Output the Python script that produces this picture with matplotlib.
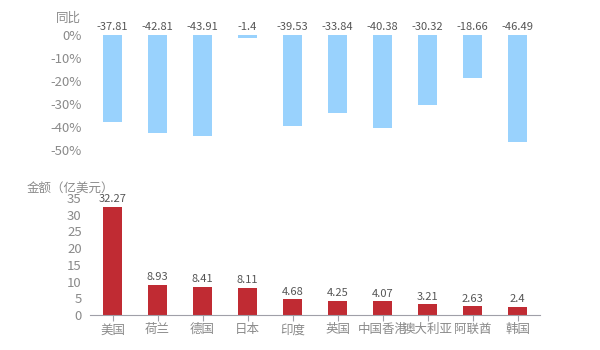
import matplotlib
matplotlib.use("Agg")
import matplotlib.pyplot as plt
from matplotlib.ticker import FuncFormatter

plt.rcParams['font.family'] = ['Noto Sans CJK SC', 'DejaVu Sans']

countries = ['美国', '荷兰', '德国', '日本', '印度', '英国', '中国香港', '澳大利亚', '阿联酋', '韩国']
yoy = [-37.81, -42.81, -43.91, -1.4, -39.53, -33.84, -40.38, -30.32, -18.66, -46.49]
amount = [32.27, 8.93, 8.41, 8.11, 4.68, 4.25, 4.07, 3.21, 2.63, 2.4]

tick_color = '#8a8a8a'
label_color = '#555555'
blue = '#99d2fd'
red = '#c02b33'

fig = plt.figure(figsize=(6, 3.5), dpi=100)
ax1 = fig.add_axes([0.15, 0.5714, 0.75, 0.3286])
ax2 = fig.add_axes([0.15, 0.10, 0.75, 0.3343])

x = list(range(len(countries)))

# top: year-on-year change
ax1.bar(x, yoy, width=0.44, color=blue)
for xi, v in zip(x, yoy):
    ax1.text(xi, 1.2, f'{v:g}', ha='center', va='bottom', fontsize=8, color=label_color)
ax1.set_xlim(-0.5, 9.5)
ax1.set_ylim(-50, 0)
ax1.set_yticks([0, -10, -20, -30, -40, -50])
ax1.yaxis.set_major_formatter(FuncFormatter(lambda v, p: f'{int(v)}%'))
ax1.set_xticks([])
for s in ax1.spines.values():
    s.set_visible(False)
ax1.tick_params(axis='y', length=0, labelsize=9.5, labelcolor=tick_color, pad=6)
ax1.text(-0.02, 1.085, '同比', transform=ax1.transAxes, ha='right', va='bottom',
         fontsize=9, color=tick_color)

# bottom: amount
ax2.bar(x, amount, width=0.44, color=red)
for xi, v in zip(x, amount):
    ax2.text(xi, v + 0.8, f'{v:g}', ha='center', va='bottom', fontsize=8, color=label_color)
ax2.set_xlim(-0.5, 9.5)
ax2.set_ylim(0, 35)
ax2.set_yticks(range(0, 36, 5))
ax2.set_xticks(x)
ax2.set_xticklabels(countries)
for k in ['top', 'right', 'left']:
    ax2.spines[k].set_visible(False)
ax2.spines['bottom'].set_color('#a0a0a8')
ax2.tick_params(axis='y', length=0, labelsize=9.5, labelcolor=tick_color, pad=6)
ax2.tick_params(axis='x', length=4, color='#a0a0a8', labelsize=9, labelcolor=tick_color, pad=2)
ax2.text(-0.14, 1.03, '金额（亿美元）', transform=ax2.transAxes, ha='left', va='bottom',
         fontsize=9, color=tick_color)

fig.savefig('out.png', dpi=100)
